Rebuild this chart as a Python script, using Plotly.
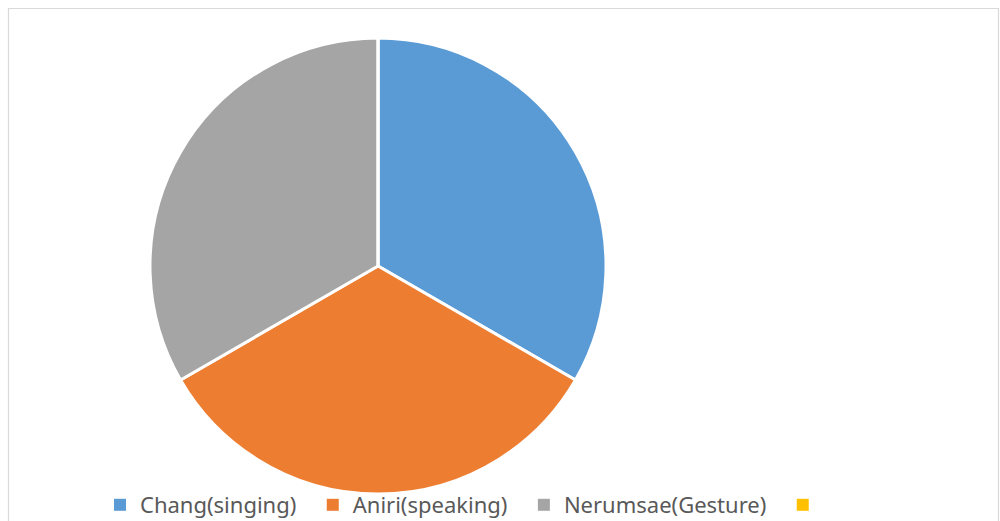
import plotly.graph_objects as go

labels = ["Chang(singing)", "Aniri(speaking)", "Nerumsae(Gesture)", " "]
values = [1, 1, 1, 0]
colors = ["#5B9BD5", "#ED7D31", "#A5A5A5", "#FFC000"]

W, H = 1000, 521
cx, cy, r = 378, 266, 228
pad = "\u00a0\u00a0"

fig = go.Figure(go.Pie(
    labels=labels, values=values, sort=False, direction="clockwise", rotation=0,
    marker=dict(colors=colors, line=dict(color="white", width=3)),
    textinfo="none", hoverinfo="label+percent", showlegend=False,
    domain=dict(x=[(cx - r) / W, (cx + r) / W], y=[1 - (cy + r) / H, 1 - (cy - r) / H]),
))

# legend entries (square swatches) built from the same labels/colours
for lab, col in zip(labels, colors):
    fig.add_trace(go.Scatter(x=[None], y=[None], mode="markers", name=lab + pad,
                             marker=dict(symbol="square", size=12, color=col),
                             hoverinfo="skip"))

fig.add_shape(type="rect", xref="paper", yref="paper",
              x0=8.5 / W, x1=998.5 / W, y0=-0.2, y1=1 - 8.5 / H,
              line=dict(color="#d9d9d9", width=1.2), fillcolor="rgba(0,0,0,0)", layer="below")

fig.update_layout(
    width=W, height=H, margin=dict(l=0, r=0, t=0, b=0, autoexpand=False),
    paper_bgcolor="white", plot_bgcolor="rgba(0,0,0,0)",
    xaxis=dict(visible=False), yaxis=dict(visible=False),
    legend=dict(orientation="h", xref="container", yref="container",
                x=100 / W, xanchor="left", y=1 - 505 / H, yanchor="middle",
                font=dict(family="Noto Sans", size=22, color="#595959"),
                itemwidth=30, bgcolor="rgba(0,0,0,0)", traceorder="normal"),
    showlegend=True,
)
fig.write_html("out.html")
